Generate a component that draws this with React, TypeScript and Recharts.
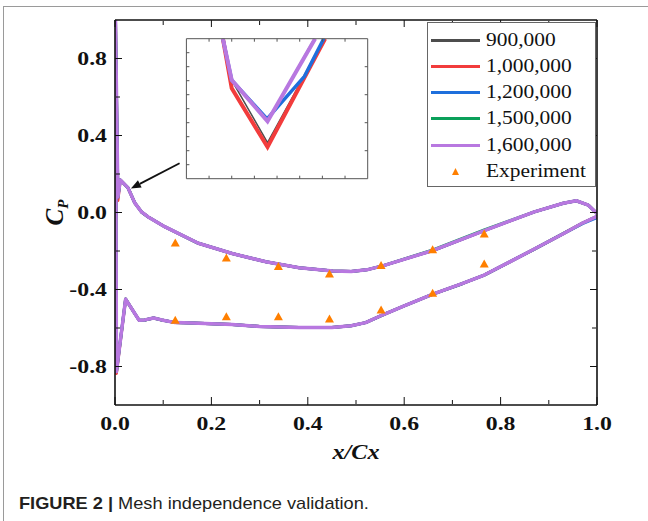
import React from 'react';
import { ComposedChart, LineChart, Line, XAxis, YAxis, Scatter, ReferenceLine, Legend, Label } from 'recharts';

// ---------- main chart data (x/Cx loop: trailing edge -> lower side -> leading edge -> upper side -> trailing edge)
const loopX = [
  1.0, 0.97, 0.93, 0.87, 0.82, 0.766, 0.72, 0.661, 0.6, 0.557, 0.52, 0.49, 0.45, 0.382, 0.3, 0.243, 0.2, 0.16, 0.125, 0.097, 0.08, 0.062, 0.05, 0.022, 0.003,
  0.001,
  0.006, 0.011, 0.027, 0.041, 0.055, 0.069, 0.104, 0.173, 0.243, 0.313, 0.382, 0.452, 0.49, 0.522, 0.557, 0.661, 0.766, 0.87, 0.93, 0.957, 0.982, 1.0,
];
const cp900 = [
  -0.02, -0.055, -0.11, -0.19, -0.255, -0.325, -0.37, -0.423, -0.485, -0.53, -0.572, -0.588, -0.598, -0.598, -0.592, -0.582, -0.578, -0.574, -0.572, -0.558, -0.548, -0.558, -0.56, -0.45, -0.83,
  1.0,
  0.07, 0.169, 0.128, 0.05, 0.003, -0.023, -0.075, -0.16, -0.213, -0.256, -0.287, -0.304, -0.306, -0.298, -0.276, -0.196, -0.094, 0.003, 0.048, 0.061, 0.038, -0.005,
];
const cp1000 = [
  -0.02, -0.055, -0.11, -0.19, -0.255, -0.325, -0.37, -0.423, -0.485, -0.53, -0.572, -0.588, -0.598, -0.598, -0.592, -0.582, -0.578, -0.574, -0.572, -0.558, -0.548, -0.558, -0.56, -0.45, -0.836,
  1.0,
  0.062, 0.169, 0.128, 0.05, 0.003, -0.023, -0.075, -0.16, -0.213, -0.256, -0.287, -0.304, -0.306, -0.298, -0.276, -0.196, -0.094, 0.003, 0.048, 0.061, 0.038, -0.005,
];
const cp1200 = [
  -0.026, -0.058, -0.11, -0.19, -0.255, -0.325, -0.37, -0.423, -0.485, -0.53, -0.572, -0.588, -0.598, -0.598, -0.592, -0.582, -0.578, -0.574, -0.572, -0.558, -0.548, -0.558, -0.56, -0.45, -0.826,
  1.0,
  0.08, 0.169, 0.128, 0.05, 0.003, -0.023, -0.075, -0.16, -0.213, -0.256, -0.287, -0.304, -0.306, -0.298, -0.276, -0.196, -0.094, 0.003, 0.048, 0.061, 0.038, -0.005,
];
const cp1500 = [
  -0.02, -0.055, -0.11, -0.19, -0.255, -0.325, -0.37, -0.423, -0.485, -0.53, -0.572, -0.588, -0.598, -0.598, -0.592, -0.582, -0.578, -0.574, -0.572, -0.558, -0.548, -0.558, -0.56, -0.45, -0.826,
  1.0,
  0.08, 0.169, 0.128, 0.05, 0.003, -0.023, -0.075, -0.16, -0.213, -0.256, -0.287, -0.304, -0.306, -0.298, -0.276, -0.193, -0.09, 0.003, 0.048, 0.061, 0.038, -0.005,
];
const cp1600 = [
  -0.02, -0.055, -0.11, -0.19, -0.255, -0.325, -0.37, -0.423, -0.485, -0.53, -0.572, -0.588, -0.598, -0.598, -0.592, -0.582, -0.578, -0.574, -0.572, -0.558, -0.548, -0.558, -0.56, -0.45, -0.826,
  1.0,
  0.08, 0.169, 0.128, 0.05, 0.003, -0.023, -0.075, -0.16, -0.213, -0.256, -0.287, -0.304, -0.306, -0.298, -0.276, -0.196, -0.094, 0.003, 0.048, 0.061, 0.038, -0.005,
];

// experiment
const expX = [0.125, 0.231, 0.339, 0.445, 0.552, 0.659, 0.766, 0.125, 0.231, 0.339, 0.445, 0.552, 0.659, 0.766];
const expCp = [-0.158, -0.237, -0.281, -0.32, -0.275, -0.193, -0.112, -0.56, -0.541, -0.541, -0.553, -0.506, -0.42, -0.268];

// ---------- inset (zoomed view, arbitrary inset units)
const inset900X = [1.61, 2.0, 3.58, 6.1];
const inset900Y = [10, 7.04, 2.57, 10];
const inset1000X = [1.61, 2.0, 3.58, 6.12];
const inset1000Y = [10, 6.45, 2.26, 10];
const inset1200X = [1.61, 2.0, 3.56, 5.21, 6.06];
const inset1200Y = [10, 7.04, 4.27, 7.31, 10];
const inset1500X = [1.61, 2.0, 3.58, 5.64];
const inset1500Y = [10, 7.04, 4.12, 10];
const inset1600X = [1.61, 2.0, 3.58, 5.68];
const inset1600Y = [10, 7.04, 4.1, 10];

// ---------- axes / labels
const xMajorTicks = [0, 0.2, 0.4, 0.6, 0.8, 1.0];
const xMinorTicks = [0.1, 0.3, 0.5, 0.7, 0.9];
const yMajorTicks = [-0.8, -0.4, 0, 0.4, 0.8];
const yMinorTicks = [-0.6, -0.2, 0.2, 0.6];
const insetXTicks = [1, 2, 3, 4, 5, 6, 7];
const insetYTicksLeft = [1, 2, 3, 4, 5, 6, 7, 8, 9];
const insetYTicksRight = [2, 4, 6, 8];

const seriesNames = ['900,000', '1,000,000', '1,200,000', '1,500,000', '1,600,000'];
const seriesColors = ['#4d4d4d', '#f23c3c', '#1e6fdc', '#0aa05a', '#b878e0'];
const mainWidths = [2.5, 3, 3, 3, 3.5];
const insetWidths = [1.5, 4, 3.5, 1.5, 4];
const experimentName = 'Experiment';
const experimentColor = '#ff7f00';

const toPts = (xs: number[], ys: number[]) => xs.map((x, i) => ({ x, y: ys[i] }));
const mainSeries = [cp900, cp1000, cp1200, cp1500, cp1600].map((ys) => toPts(loopX, ys));
const insetSeries = [
  toPts(inset900X, inset900Y),
  toPts(inset1000X, inset1000Y),
  toPts(inset1200X, inset1200Y),
  toPts(inset1500X, inset1500Y),
  toPts(inset1600X, inset1600Y),
];
const expPts = toPts(expX, expCp);

const SERIF = '"Liberation Serif", "Times New Roman", Times, serif';
const W = 648;
const H = 521;

const XTick = (p: any) => (
  <text
    transform={`translate(${p.x},${p.y + 27}) scale(1.22,1)`}
    textAnchor="middle"
    dominantBaseline="central"
    fontFamily={SERIF}
    fontWeight="bold"
    fontSize={19.5}
    fill="#111"
  >
    {Number(p.payload.value).toFixed(1)}
  </text>
);

const YTick = (p: any) => (
  <text
    transform={`translate(${p.x - 15},${p.y}) scale(1.22,1)`}
    textAnchor="end"
    dominantBaseline="central"
    fontFamily={SERIF}
    fontWeight="bold"
    fontSize={19.5}
    fill="#111"
  >
    {Number(p.payload.value).toFixed(1)}
  </text>
);

const NoTick = () => <g />;

const XTitle = (p: any) => {
  const vb = p.viewBox || { x: 0, y: 0, width: 0, height: 0 };
  return (
    <text
      transform={`translate(${vb.x + vb.width / 2},${vb.y + 55}) scale(1.15,1)`}
      textAnchor="middle"
      fontFamily={SERIF}
      fontWeight="bold"
      fontStyle="italic"
      fontSize={21}
      fill="#111"
    >
      x/Cx
    </text>
  );
};

const YTitle = (p: any) => {
  const vb = p.viewBox || { x: 0, y: 0, width: 0, height: 0 };
  return (
    <text
      transform={`translate(${vb.x - 52},${vb.y + vb.height / 2}) rotate(-90)`}
      textAnchor="middle"
      fontFamily={SERIF}
      fontWeight="bold"
      fontStyle="italic"
      fontSize={25}
      fill="#111"
    >
      <tspan>C</tspan>
      <tspan dy={5} fontSize={15}>P</tspan>
    </text>
  );
};

const Tri = (p: any) => {
  const { cx, cy } = p;
  if (cx == null || cy == null) return null;
  return <polygon points={`${cx},${cy - 4.5} ${cx - 4.5},${cy + 3.5} ${cx + 4.5},${cy + 3.5}`} fill={experimentColor} />;
};

const ArrowShape = (p: any) => {
  const { x1, y1, x2, y2 } = p;
  if ([x1, y1, x2, y2].some((v) => v == null || isNaN(v))) return null;
  const dx = x2 - x1;
  const dy = y2 - y1;
  const len = Math.sqrt(dx * dx + dy * dy) || 1;
  const ux = dx / len;
  const uy = dy / len;
  const hl = 10;
  const hw = 4;
  const bx = x2 - ux * hl;
  const by = y2 - uy * hl;
  return (
    <g>
      <line x1={x1} y1={y1} x2={bx} y2={by} stroke="#111" strokeWidth={1.8} />
      <polygon
        points={`${x2},${y2} ${bx - uy * hw},${by + ux * hw} ${bx + uy * hw},${by - ux * hw}`}
        fill="#111"
      />
    </g>
  );
};

const legendText: React.CSSProperties = {
  position: 'absolute',
  left: 58,
  top: 2,
  lineHeight: '22px',
  display: 'inline-block',
  whiteSpace: 'nowrap',
  transform: 'scaleX(1.19)',
  transformOrigin: 'left center',
};

const LegendBox = () => (
  <div
    style={{
      width: 169,
      height: 165,
      boxSizing: 'border-box',
      border: '1px solid #666',
      background: '#fff',
      paddingTop: 4,
      fontFamily: SERIF,
      fontSize: 18,
      color: '#111',
    }}
  >
    {seriesNames.map((n, i) => (
      <div key={n} style={{ position: 'relative', height: 26.3 }}>
        <div style={{ position: 'absolute', left: 3, top: 12, width: 49, height: 3, background: seriesColors[i] }} />
        <span style={legendText}>{n}</span>
      </div>
    ))}
    <div style={{ position: 'relative', height: 26.3 }}>
      <svg style={{ position: 'absolute', left: 23, top: 9 }} width={9} height={9}>
        <polygon points="4.5,1 8,8 1,8" fill={experimentColor} />
      </svg>
      <span style={legendText}>{experimentName}</span>
    </div>
  </div>
);

const axisStroke = '#111';

function MainChart() {
  return (
    <ComposedChart width={W} height={H} margin={{ top: 20, right: 51, bottom: 116, left: 115 }}>
      <XAxis xAxisId="bMin" orientation="bottom" mirror type="number" dataKey="x" domain={[0, 1]} ticks={xMinorTicks} interval={0}
        height={1} tickSize={4} tickMargin={0} tick={<NoTick />} axisLine={false} stroke={axisStroke} allowDataOverflow />
      <XAxis xAxisId="b" orientation="bottom" mirror type="number" dataKey="x" domain={[0, 1]} ticks={xMajorTicks} interval={0}
        height={1} tickSize={8} tickMargin={0} tick={<XTick />} axisLine={{ stroke: axisStroke, strokeWidth: 1.6 }}
        stroke={axisStroke} allowDataOverflow>
        <Label content={<XTitle />} />
      </XAxis>
      <XAxis xAxisId="tMin" orientation="top" mirror type="number" dataKey="x" domain={[0, 1]} ticks={xMinorTicks} interval={0}
        height={1} tickSize={4} tick={<NoTick />} axisLine={false} stroke={axisStroke} allowDataOverflow />
      <XAxis xAxisId="t" orientation="top" mirror type="number" dataKey="x" domain={[0, 1]} ticks={xMajorTicks} interval={0}
        height={1} tickSize={7} tick={<NoTick />} axisLine={{ stroke: axisStroke, strokeWidth: 1.6 }} stroke={axisStroke} allowDataOverflow />
      <YAxis yAxisId="lMin" orientation="left" mirror type="number" dataKey="y" domain={[-1, 1]} ticks={yMinorTicks} interval={0}
        width={1} tickSize={4} tick={<NoTick />} axisLine={false} stroke={axisStroke} allowDataOverflow />
      <YAxis yAxisId="l" orientation="left" mirror type="number" dataKey="y" domain={[-1, 1]} ticks={yMajorTicks} interval={0}
        width={1} tickSize={7} tickMargin={0} tick={<YTick />} axisLine={{ stroke: axisStroke, strokeWidth: 1.6 }}
        stroke={axisStroke} allowDataOverflow>
        <Label content={<YTitle />} />
      </YAxis>
      <YAxis yAxisId="rMin" orientation="right" mirror type="number" dataKey="y" domain={[-1, 1]} ticks={yMinorTicks} interval={0}
        width={1} tickSize={4} tick={<NoTick />} axisLine={false} stroke={axisStroke} allowDataOverflow />
      <YAxis yAxisId="r" orientation="right" mirror type="number" dataKey="y" domain={[-1, 1]} ticks={yMajorTicks} interval={0}
        width={1} tickSize={7} tick={<NoTick />} axisLine={{ stroke: axisStroke, strokeWidth: 1.6 }} stroke={axisStroke} allowDataOverflow />

      {mainSeries.map((d, i) => (
        <Line
          key={seriesNames[i]}
          name={seriesNames[i]}
          data={d}
          dataKey="y"
          xAxisId="b"
          yAxisId="l"
          type="linear"
          stroke={seriesColors[i]}
          strokeWidth={mainWidths[i]}
          strokeLinejoin="round"
          dot={false}
          activeDot={false}
          isAnimationActive={false}
        />
      ))}
      <Scatter
        name={experimentName}
        data={expPts}
        dataKey="y"
        xAxisId="b"
        yAxisId="l"
        fill={experimentColor}
        shape={Tri}
        isAnimationActive={false}
      />
      <ReferenceLine
        xAxisId="b"
        yAxisId="l"
        segment={[{ x: 0.134, y: 0.256 }, { x: 0.033, y: 0.125 }]}
        shape={ArrowShape}
        ifOverflow="visible"
      />
      <Legend
        layout="horizontal"
        verticalAlign="middle"
        align="center"
        content={() => <LegendBox />}
        wrapperStyle={{ position: 'absolute', left: 427, top: 21.5, width: 169, height: 165 }}
      />
    </ComposedChart>
  );
}

const insetStroke = '#555';

function InsetChart() {
  // plot area ~ x 188.4..365.7, y 40.7..176.7
  return (
    <LineChart width={W} height={H} margin={{ top: 38.7, right: 280.3, bottom: 342.3, left: 186.4 }}>
      <XAxis xAxisId="ib" orientation="bottom" mirror type="number" dataKey="x" domain={[0, 8]} ticks={insetXTicks} interval={0}
        height={1} tickSize={3} tick={<NoTick />} axisLine={{ stroke: insetStroke, strokeWidth: 1 }} stroke={insetStroke} allowDataOverflow />
      <XAxis xAxisId="it" orientation="top" mirror type="number" dataKey="x" domain={[0, 8]} ticks={insetXTicks} interval={0}
        height={1} tickSize={3} tick={<NoTick />} axisLine={{ stroke: insetStroke, strokeWidth: 1 }} stroke={insetStroke} allowDataOverflow />
      <YAxis yAxisId="il" orientation="left" mirror type="number" dataKey="y" domain={[0, 10]} ticks={insetYTicksLeft} interval={0}
        width={1} tickSize={3} tick={<NoTick />} axisLine={{ stroke: insetStroke, strokeWidth: 1 }} stroke={insetStroke} allowDataOverflow />
      <YAxis yAxisId="ir" orientation="right" mirror type="number" dataKey="y" domain={[0, 10]} ticks={insetYTicksRight} interval={0}
        width={1} tickSize={3} tick={<NoTick />} axisLine={{ stroke: insetStroke, strokeWidth: 1 }} stroke={insetStroke} allowDataOverflow />
      {insetSeries.map((d, i) => (
        <Line
          key={seriesNames[i]}
          data={d}
          dataKey="y"
          xAxisId="ib"
          yAxisId="il"
          type="linear"
          stroke={seriesColors[i]}
          strokeWidth={insetWidths[i]}
          strokeLinejoin="miter"
          dot={false}
          activeDot={false}
          isAnimationActive={false}
        />
      ))}
    </LineChart>
  );
}

export default function App() {
  return (
    <div style={{ position: 'absolute', left: 0, top: 0, width: W, height: H, overflow: 'hidden', background: '#fff' }}>
      <div style={{ position: 'absolute', left: 3, top: 6, width: 800, height: 700, borderTop: '1px solid #9a9a9a', borderLeft: '1px solid #9a9a9a' }} />
      <div style={{ position: 'absolute', left: 0, top: 0 }}>
        <MainChart />
      </div>
      <div style={{ position: 'absolute', left: 0, top: 0, pointerEvents: 'none' }}>
        <InsetChart />
      </div>
      <div
        style={{
          position: 'absolute',
          left: 18.5,
          top: 494,
          fontFamily: '"Liberation Sans", Arial, Helvetica, sans-serif',
          fontSize: 17,
          lineHeight: '20px',
          color: '#231f20',
          whiteSpace: 'nowrap',
          transform: 'scaleX(1.07)',
          transformOrigin: 'left center',
        }}
      >
        <span style={{ fontWeight: 'bold' }}>FIGURE 2 | </span>
        <span>Mesh independence validation.</span>
      </div>
    </div>
  );
}
